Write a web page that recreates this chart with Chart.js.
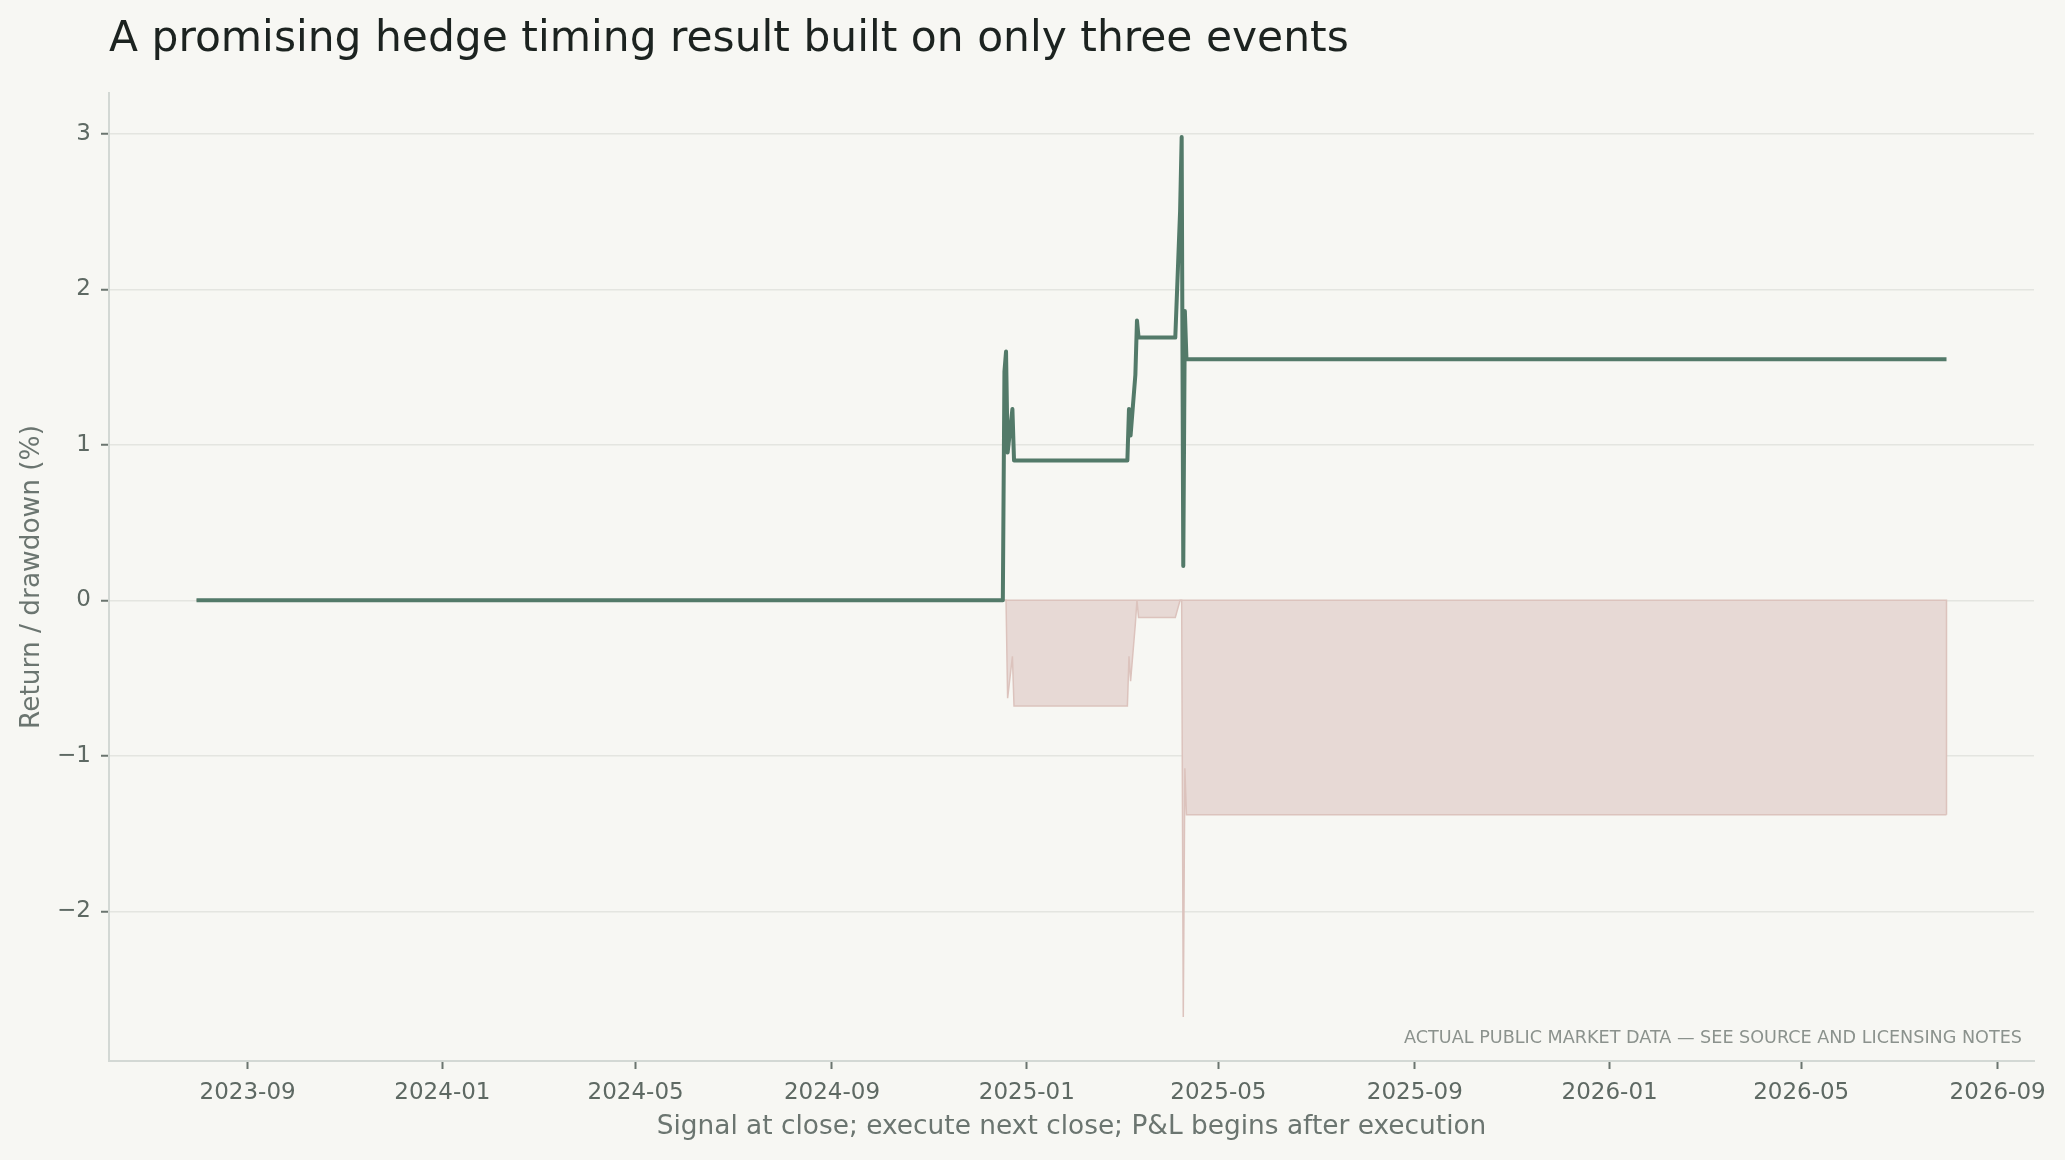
<!DOCTYPE html>
<html>
<head>
<meta charset="utf-8">
<title>Hedge timing result</title>
<script src="https://cdn.jsdelivr.net/npm/chart.js@4.4.1/dist/chart.umd.min.js"></script>
<style>
  html, body { margin: 0; padding: 0; background: #f7f7f3; }
  #wrap { width: 2065px; height: 1160px; position: relative; }
</style>
</head>
<body>
<div id="wrap"><canvas id="hedge-chart"></canvas></div>
<script>
// breakpoints of the daily series, flat stretches keep only their ends
const eventDates = [
  '2023-07-31', '2024-12-17', '2024-12-18', '2024-12-19', '2024-12-20',
  '2024-12-23', '2024-12-24', '2025-03-05', '2025-03-06', '2025-03-07',
  '2025-03-10', '2025-03-11', '2025-03-12', '2025-04-04', '2025-04-07',
  '2025-04-08', '2025-04-09', '2025-04-10', '2025-04-11', '2026-07-31'
];
const returnPct = [
  0, 0, 1.47, 1.60, 0.95,
  1.23, 0.90, 0.90, 1.23, 1.06,
  1.45, 1.80, 1.69, 1.69, 2.50,
  2.98, 0.22, 1.86, 1.55, 1.55
];
const drawdownPct = [
  0, 0, 0, 0, -0.63,
  -0.36, -0.68, -0.68, -0.36, -0.52,
  -0.15, 0, -0.11, -0.11, 0,
  0, -2.68, -1.08, -1.38, -1.38
];
const xTickLabels = ['2023-09', '2024-01', '2024-05', '2024-09', '2025-01',
                     '2025-05', '2025-09', '2026-01', '2026-05', '2026-09'];
const yTickValues = [-2, -1, 0, 1, 2, 3];

const titleText = 'A promising hedge timing result built on only three events';
const xTitle = 'Signal at close; execute next close; P&L begins after execution';
const yTitle = 'Return / drawdown (%)';
const noteText = 'ACTUAL PUBLIC MARKET DATA \u2014 SEE SOURCE AND LICENSING NOTES';

function toTime(str) {
  let p = str.split('-').map(Number);
  return Date.UTC(p[0], p[1] - 1, p[2] || 1);
}

let times = eventDates.map(toTime),
    xTickValues = xTickLabels.map(toTime);

// 5% margins around the data, as the original plot had
let tFirst = Math.min(...times), tLast = Math.max(...times),
    tSpan = tLast - tFirst,
    allVals = returnPct.concat(drawdownPct),
    vLow = Math.min(...allVals), vHigh = Math.max(...allVals),
    vSpan = vHigh - vLow;

let returnPoints = times.map((t, i) => ({ x: t, y: returnPct[i] })),
    drawdownPoints = times.map((t, i) => ({ x: t, y: drawdownPct[i] }));

Chart.defaults.font.family = "'DejaVu Sans', sans-serif";

const pageBackground = {
  id: 'pageBackground',
  beforeDraw(chart) {
    let ctx = chart.ctx;
    ctx.save();
    ctx.fillStyle = '#f7f7f3';
    ctx.fillRect(0, 0, chart.width, chart.height);
    ctx.restore();
  }
};

// close the drawdown band outline back to zero, like a filled polygon edge
const bandEdge = {
  id: 'bandEdge',
  afterDatasetDraw(chart, args) {
    if (args.index !== 1) return;
    let pts = args.meta.data,
        first = pts[0], last = pts[pts.length - 1],
        zero = chart.scales.y.getPixelForValue(0),
        ctx = chart.ctx;
    ctx.save();
    ctx.strokeStyle = '#dcc3bd';
    ctx.lineWidth = 1.5;
    ctx.beginPath();
    ctx.moveTo(last.x, last.y);
    ctx.lineTo(last.x, zero);
    ctx.lineTo(first.x, zero);
    ctx.stroke();
    ctx.restore();
  }
};

const sourceNote = {
  id: 'sourceNote',
  afterDraw(chart) {
    let ctx = chart.ctx, area = chart.chartArea;
    ctx.save();
    ctx.font = "17.6px 'DejaVu Sans', sans-serif";
    ctx.fillStyle = '#8b928d';
    ctx.textAlign = 'right';
    ctx.textBaseline = 'alphabetic';
    ctx.fillText(noteText, area.right - 12, area.bottom - 18);
    ctx.restore();
  }
};

new Chart(document.getElementById('hedge-chart'), {
  type: 'line',
  data: {
    datasets: [{
      label: 'Strategy return',
      data: returnPoints,
      borderColor: '#537a69',
      borderWidth: 4,
      borderJoinStyle: 'round',
      pointRadius: 0,
      fill: false,
      tension: 0,
      order: 0
    },
    {
      label: 'Drawdown',
      data: drawdownPoints,
      borderColor: '#dcc3bd',
      backgroundColor: '#e7d9d5',
      borderWidth: 1.5,
      pointRadius: 0,
      fill: 'origin',
      tension: 0,
      order: 1
    }]
  },
  options: {
    responsive: true,
    maintainAspectRatio: false,
    animation: false,
    layout: { padding: { left: 0, right: 31, top: 0, bottom: 0 } },
    plugins: {
      legend: { display: false },
      tooltip: { enabled: false },
      title: {
        display: true,
        text: titleText,
        align: 'start',
        fullSize: false,
        color: '#1c2320',
        font: { size: 42.4, weight: 'normal' },
        padding: { top: 15, bottom: 27.1 }
      }
    },
    scales: {
      x: {
        type: 'linear',
        min: tFirst - 0.05 * tSpan,
        max: tLast + 0.05 * tSpan,
        afterBuildTicks: scale => { scale.ticks = xTickValues.map(v => ({ value: v })); },
        afterFit: scale => { scale.height = 99; },
        ticks: {
          autoSkip: false,
          maxRotation: 0,
          padding: 10,
          color: '#5e6963',
          font: { size: 23 },
          callback: (value, index) => xTickLabels[index]
        },
        grid: {
          display: true,
          drawOnChartArea: false,
          drawTicks: true,
          tickLength: 8,
          tickWidth: 2,
          tickColor: '#6b756f'
        },
        border: { display: true, color: '#d3d8d4', width: 2 },
        title: {
          display: true,
          text: xTitle,
          color: '#6b7570',
          font: { size: 26.4 },
          padding: { top: 0, bottom: 17 }
        }
      },
      y: {
        min: vLow - 0.05 * vSpan,
        max: vHigh + 0.05 * vSpan,
        afterBuildTicks: scale => { scale.ticks = yTickValues.map(v => ({ value: v })); },
        afterFit: scale => { scale.width = 109; },
        ticks: {
          padding: 10,
          color: '#5e6963',
          font: { size: 23 },
          callback: value => value < 0 ? '\u2212' + Math.abs(value) : String(value)
        },
        grid: {
          color: '#e4e5e0',
          lineWidth: 1.5,
          drawTicks: true,
          tickLength: 8,
          tickWidth: 2,
          tickColor: '#6b756f'
        },
        border: { display: true, color: '#d3d8d4', width: 2 },
        title: {
          display: true,
          text: yTitle,
          color: '#6b7570',
          font: { size: 26.4 },
          padding: { top: 16, bottom: 0 }
        }
      }
    }
  },
  plugins: [pageBackground, bandEdge, sourceNote]
});
</script>
</body>
</html>
